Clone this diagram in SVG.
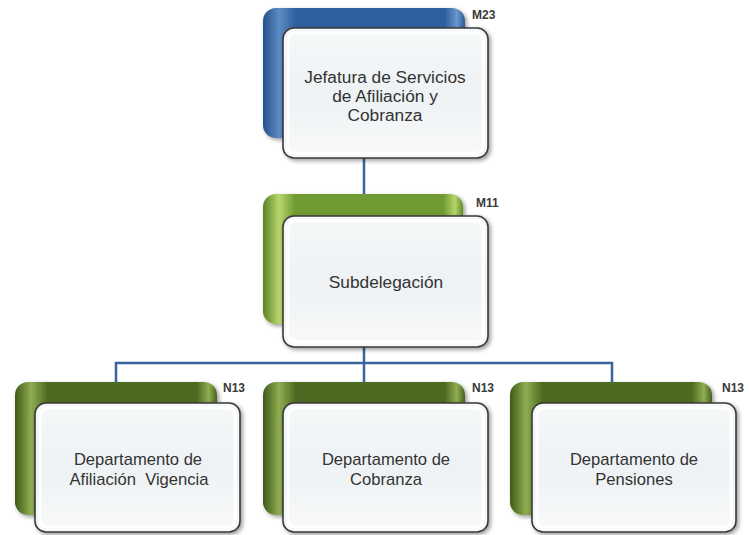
<svg xmlns="http://www.w3.org/2000/svg" width="749" height="535" viewBox="0 0 749 535">
<defs>
<linearGradient id="gBlue" x1="0" y1="0" x2="1" y2="0">
<stop offset="0" stop-color="#24508a"/><stop offset="0.08" stop-color="#5d8cc4"/><stop offset="0.16" stop-color="#2f5f9e"/><stop offset="0.9" stop-color="#2f5f9e"/><stop offset="0.96" stop-color="#6a97cc"/><stop offset="1" stop-color="#2a5894"/>
</linearGradient>
<linearGradient id="gGreen" x1="0" y1="0" x2="1" y2="0">
<stop offset="0" stop-color="#5a8224"/><stop offset="0.08" stop-color="#b8d66e"/><stop offset="0.16" stop-color="#6f9a30"/><stop offset="0.9" stop-color="#6f9a30"/><stop offset="0.96" stop-color="#b5d46a"/><stop offset="1" stop-color="#628a28"/>
</linearGradient>
<linearGradient id="gDark" x1="0" y1="0" x2="1" y2="0">
<stop offset="0" stop-color="#3f5a18"/><stop offset="0.08" stop-color="#8fae52"/><stop offset="0.16" stop-color="#4e6b20"/><stop offset="0.9" stop-color="#4e6b20"/><stop offset="0.96" stop-color="#8fae52"/><stop offset="1" stop-color="#46621c"/>
</linearGradient>
<linearGradient id="gFront" x1="0" y1="0" x2="0" y2="1">
<stop offset="0" stop-color="#f6f8f9"/><stop offset="0.5" stop-color="#eef2f4"/><stop offset="1" stop-color="#f8f9fa"/>
</linearGradient>
<filter id="sh" x="-10%" y="-10%" width="125%" height="125%">
<feGaussianBlur in="SourceAlpha" stdDeviation="2"/><feOffset dx="2" dy="2"/><feComponentTransfer><feFuncA type="linear" slope="0.4"/></feComponentTransfer><feMerge><feMergeNode/><feMergeNode in="SourceGraphic"/></feMerge>
</filter>
</defs>
<style>
.back{stroke:none}
.front{fill:url(#gFront);stroke:#3a3a3a;stroke-width:1.6}
.inner{fill:none;stroke:#ffffff;stroke-width:3;opacity:0.9}
.t{font-family:"Liberation Sans",Arial,sans-serif;font-size:17.3px;fill:#333333;text-anchor:middle;white-space:pre}
.b{font-size:16.6px}
.lab{font-family:"Liberation Sans",Arial,sans-serif;font-size:12px;font-weight:bold;fill:#3a3a3a}
.conn{fill:none;stroke:#3a64a0;stroke-width:2.5}
</style>
<g id="connectors">
<path class="conn" d="M364 150 V196"/>
<path class="conn" d="M364 340 V384"/>
<path class="conn" d="M116 384 V363 H612 V384"/>
</g>
<g id="n-jefatura">
<rect class="back" x="263" y="8" width="202" height="130" rx="13" fill="url(#gBlue)" filter="url(#sh)"/>
<rect class="front" x="283" y="28" width="205" height="130" rx="11" filter="url(#sh)"/>
<rect class="inner" x="288" y="33" width="195" height="120" rx="7"/>
<text class="t" x="385" y="83">Jefatura de Servicios</text>
<text class="t" x="385" y="102">de Afiliación y</text>
<text class="t" x="385" y="121">Cobranza</text>
<text class="lab" x="472" y="19">M23</text>
</g>
<g id="n-subdelegacion">
<rect class="back" x="263" y="194" width="200" height="130" rx="13" fill="url(#gGreen)" filter="url(#sh)"/>
<rect class="front" x="283" y="216" width="205" height="131" rx="11" filter="url(#sh)"/>
<rect class="inner" x="288" y="221" width="195" height="121" rx="7"/>
<text class="t" x="386" y="288">Subdelegación</text>
<text class="lab" x="476" y="207">M11</text>
</g>
<g id="n-afiliacion">
<rect class="back" x="15" y="382" width="202" height="133" rx="13" fill="url(#gDark)" filter="url(#sh)"/>
<rect class="front" x="35" y="403" width="205" height="129" rx="11" filter="url(#sh)"/>
<rect class="inner" x="40" y="408" width="195" height="119" rx="7"/>
<text class="t b" x="138" y="465">Departamento de</text>
<text class="t b" x="139" y="485" xml:space="preserve">Afiliación  Vigencia</text>
<text class="lab" x="223" y="392">N13</text>
</g>
<g id="n-cobranza">
<rect class="back" x="263" y="382" width="202" height="133" rx="13" fill="url(#gDark)" filter="url(#sh)"/>
<rect class="front" x="283" y="403" width="205" height="129" rx="11" filter="url(#sh)"/>
<rect class="inner" x="288" y="408" width="195" height="119" rx="7"/>
<text class="t b" x="386" y="465">Departamento de</text>
<text class="t b" x="386" y="485">Cobranza</text>
<text class="lab" x="472" y="392">N13</text>
</g>
<g id="n-pensiones">
<rect class="back" x="510" y="382" width="202" height="133" rx="13" fill="url(#gDark)" filter="url(#sh)"/>
<rect class="front" x="532" y="403" width="204" height="129" rx="11" filter="url(#sh)"/>
<rect class="inner" x="537" y="408" width="194" height="119" rx="7"/>
<text class="t b" x="634" y="465">Departamento de</text>
<text class="t b" x="634" y="485">Pensiones</text>
<text class="lab" x="722" y="392">N13</text>
</g>
</svg>
